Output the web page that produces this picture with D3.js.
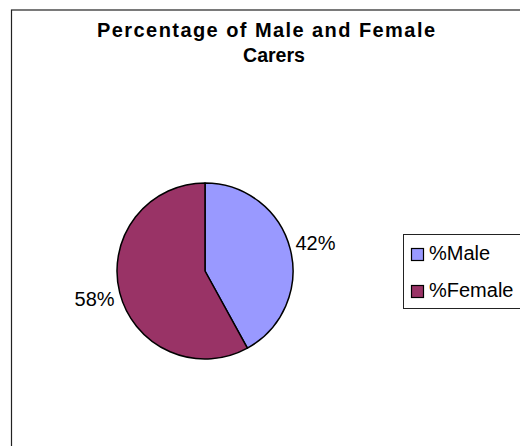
<!DOCTYPE html>
<meta charset="utf-8">
<head>
  <title>Percentage of Male and Female Carers</title>
</head>
<body style="margin:0;background:#fff">
<style>
text { font-family: Arial, "Liberation Sans", sans-serif; fill: #000; }
.title { font-size: 20px; font-weight: bold; text-anchor: middle; }
.lbl { font-size: 20px; text-anchor: middle; }
.leg { font-size: 20px; }
</style>
<svg width="520" height="446"></svg>
<script src="https://d3js.org/d3.v7.min.js"></script>
<script>

var categories = ["%Male", "%Female"];
var values = [42, 58];
var labels = ["42%", "58%"];

var svg = d3.select("svg"),
    cx = 205, cy = 271, radius = 88;

var color = d3.scaleOrdinal()
    .domain(categories)
    .range(["#9999ff", "#993366"]);

// chart area border, runs off the right and bottom of the picture
svg.append("rect")
    .attr("x", 11.5).attr("y", 10)
    .attr("width", 700).attr("height", 700)
    .attr("fill", "#fff")
    .attr("stroke", "#222")
    .attr("stroke-width", 1.2);

svg.append("text").attr("class", "title")
    .attr("x", 266).attr("y", 37)
    .attr("textLength", 338).attr("lengthAdjust", "spacing")
    .text("Percentage of Male and Female");
svg.append("text").attr("class", "title")
    .attr("x", 274).attr("y", 62)
    .attr("textLength", 62).attr("lengthAdjust", "spacingAndGlyphs")
    .text("Carers");

var pie = d3.pie()
    .sort(null)
    .value(function(d, i) { return values[i]; });

var path = d3.arc()
    .outerRadius(radius)
    .innerRadius(0);

var label = d3.arc()
    .outerRadius(radius + 26)
    .innerRadius(radius + 26);

var g = svg.append("g").attr("transform", "translate(" + cx + "," + cy + ")");

var arc = g.selectAll(".arc")
    .data(pie(categories))
    .enter().append("g")
    .attr("class", "arc");

arc.append("path")
    .attr("d", path)
    .attr("fill", function(d) { return color(d.data); })
    .attr("stroke", "#000")
    .attr("stroke-width", 1.5)
    .attr("stroke-linejoin", "round");

arc.append("text").attr("class", "lbl")
    .attr("transform", function(d) { return "translate(" + label.centroid(d) + ")"; })
    .attr("dy", "0.35em")
    .text(function(d, i) { return labels[i]; });

// legend
var leg = svg.append("g");
leg.append("rect")
    .attr("x", 403.5).attr("y", 234.5)
    .attr("width", 200).attr("height", 74)
    .attr("fill", "#fff")
    .attr("stroke", "#222");

var item = leg.selectAll(".item")
    .data(categories)
    .enter().append("g")
    .attr("transform", function(d, i) { return "translate(0," + (i * 37) + ")"; });

item.append("rect")
    .attr("x", 411.5).attr("y", 248.5)
    .attr("width", 12).attr("height", 12)
    .attr("fill", function(d) { return color(d); })
    .attr("stroke", "#000")
    .attr("stroke-width", 1.2);

item.append("text").attr("class", "leg")
    .attr("x", 429).attr("y", 260)
    .text(function(d) { return d; });

</script>
</body>
</html>
